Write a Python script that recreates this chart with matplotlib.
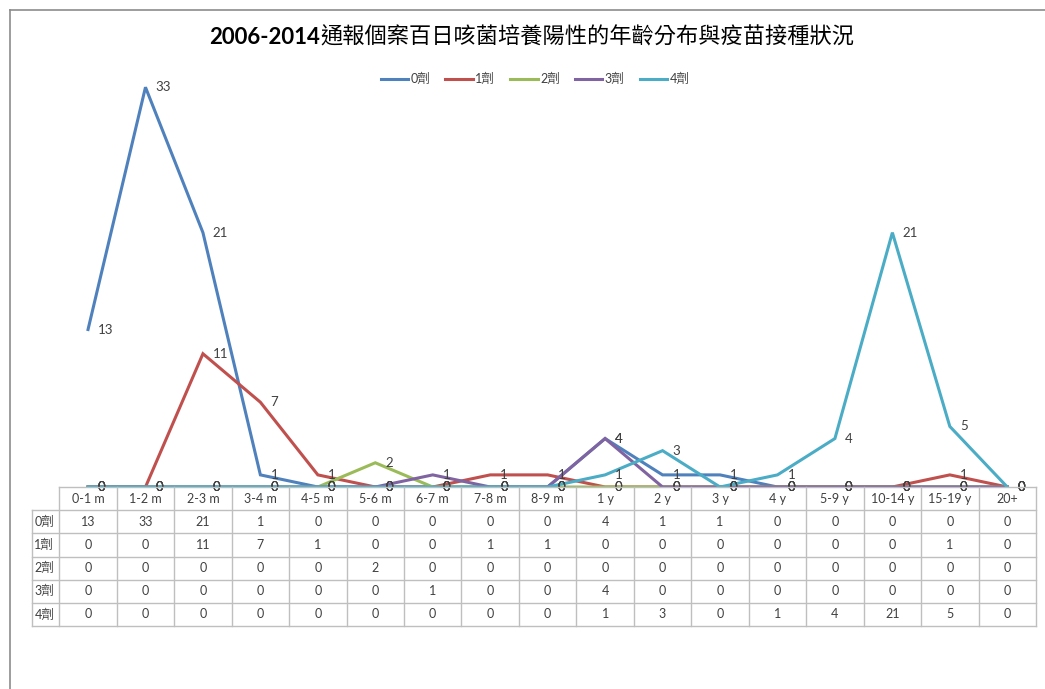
import matplotlib.pyplot as plt
from matplotlib.lines import Line2D

plt.rcParams['font.family'] = ['Lato', 'Noto Sans CJK TC', 'DejaVu Sans']

# data
categories = ['0-1 m', '1-2 m', '2-3 m', '3-4 m', '4-5 m', '5-6 m', '6-7 m', '7-8 m', '8-9 m',
              '1 y', '2 y', '3 y', '4 y', '5-9 y', '10-14 y', '15-19 y', '20+']
series_names = ['0劑', '1劑', '2劑', '3劑', '4劑']
dose0 = [13, 33, 21, 1, 0, 0, 0, 0, 0, 4, 1, 1, 0, 0, 0, 0, 0]
dose1 = [0, 0, 11, 7, 1, 0, 0, 1, 1, 0, 0, 0, 0, 0, 0, 1, 0]
dose2 = [0, 0, 0, 0, 0, 2, 0, 0, 0, 0, 0, 0, 0, 0, 0, 0, 0]
dose3 = [0, 0, 0, 0, 0, 0, 1, 0, 0, 4, 0, 0, 0, 0, 0, 0, 0]
dose4 = [0, 0, 0, 0, 0, 0, 0, 0, 0, 1, 3, 0, 1, 4, 21, 5, 0]
all_series = [dose0, dose1, dose2, dose3, dose4]
colors = ['#4F81BD', '#C0504D', '#9BBB59', '#8064A2', '#4BACC6']

title_years = '2006-2014'
title_text = '通報個案百日咳菌培養陽性的年齡分布與疫苗接種狀況'
text_col = '#404040'
grid_col = '#BFBFBF'

W, H = 1045, 689
fig = plt.figure(figsize=(W / 100, H / 100), dpi=100)

def fx(px):
    return px / W

def fy(py):
    return 1 - py / H

# outer chart border
fig.add_artist(Line2D([fx(10), fx(10)], [fy(10), 0], color='#8C8C8C', lw=1.2))
fig.add_artist(Line2D([fx(10), 1], [fy(10), fy(10)], color='#8C8C8C', lw=1.2))

# main plot
left, right = fx(59.3), fx(1036)
ax = fig.add_axes([left, fy(487), right - left, fy(63) - fy(487)])
x = list(range(len(categories)))
for vals, name, c in zip(all_series, series_names, colors):
    ax.plot(x, vals, color=c, lw=2.2, label=name, solid_joinstyle='miter')
for vals in all_series:
    for xi, v in zip(x, vals):
        ax.annotate(str(v), (xi, v), xytext=(10, 0), textcoords='offset pixels',
                    ha='left', va='center', fontsize=9.5, color=text_col,
                    annotation_clip=False)
ax.set_xlim(-0.5, len(categories) - 0.5)
ax.set_ylim(0, 35)
ax.axis('off')

# title: bold years + regular CJK, centred as a whole
t1 = fig.text(0, fy(37), title_years, ha='left', va='center', fontsize=16,
              fontweight='bold', color='black')
t2 = fig.text(0, fy(37), title_text, ha='left', va='center', fontsize=16,
              fontweight='normal', color='black')
r = fig.canvas.get_renderer()
w1 = t1.get_window_extent(r).width
w2 = t2.get_window_extent(r).width
start = 532 - (w1 + w2) / 2
t1.set_x(fx(start))
t2.set_x(fx(start + w1))

handles = [Line2D([], [], color=c, lw=2.2) for c in colors]
fig.legend(handles, series_names, loc='center', bbox_to_anchor=(fx(535), fy(79)),
           ncol=5, frameon=False, fontsize=9, handlelength=2.2, handletextpad=0.2,
           columnspacing=1.2, labelcolor=text_col)

# data table
tax = fig.add_axes([left, fy(626), right - left, fy(487) - fy(626)])
tax.set_xlim(-0.5, len(categories) - 0.5)
tax.set_ylim(6, 0)
tax.axis('off')
n = len(categories)
lab_left = -0.5 - (59.3 - 32) / ((1036 - 59.3) / n)
for k in range(n + 1):
    tax.plot([k - 0.5, k - 0.5], [0, 6], color=grid_col, lw=1, clip_on=False)
tax.plot([lab_left, lab_left], [1, 6], color=grid_col, lw=1, clip_on=False)
tax.plot([-0.5, n - 0.5], [0, 0], color=grid_col, lw=1, clip_on=False)
for rr in range(1, 7):
    tax.plot([lab_left, n - 0.5], [rr, rr], color=grid_col, lw=1, clip_on=False)
for k, cat in enumerate(categories):
    tax.text(k, 0.5, cat, ha='center', va='center', fontsize=9, color=text_col)
for rr, (name, vals) in enumerate(zip(series_names, all_series), start=1):
    tax.text(lab_left + 0.04, rr + 0.5, name, ha='left', va='center', fontsize=9,
             color=text_col, clip_on=False)
    for k, v in enumerate(vals):
        tax.text(k, rr + 0.5, str(v), ha='center', va='center', fontsize=9, color=text_col)

fig.savefig('out.png', dpi=100)
